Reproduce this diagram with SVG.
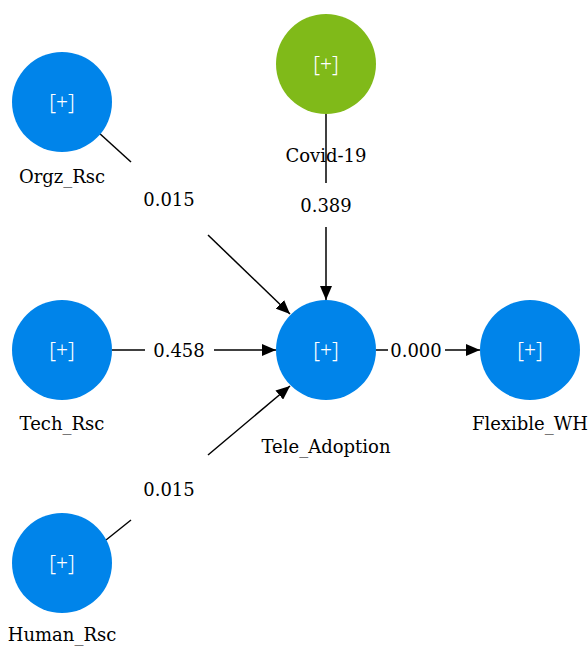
<svg xmlns="http://www.w3.org/2000/svg" width="588" height="646" viewBox="0 0 588 646">
<style>
.n{fill:#0084ea}
.g{fill:#80ba19}
.p{font-family:"Noto Sans","DejaVu Sans",sans-serif;font-size:21px;font-weight:300;fill:#fff;text-anchor:middle;dominant-baseline:central}
.l{font-family:"DejaVu Serif","Liberation Serif",serif;font-size:18px;fill:#000;text-anchor:middle;dominant-baseline:central}
.c{stroke:#000;stroke-width:1.5;fill:none}
</style>
<defs>
<marker id="ah" viewBox="0 0 14 12" refX="14" refY="6" markerWidth="14" markerHeight="12" markerUnits="userSpaceOnUse" orient="auto">
<path d="M0,0 L14,6 L0,12 Z" fill="#000"/>
</marker>
</defs>
<g id="connectors">
<line class="c" x1="98" y1="132" x2="131" y2="162"/>
<line class="c" x1="208" y1="235" x2="290" y2="314" marker-end="url(#ah)"/>
<text class="l" x="169" y="199">0.015</text>
<line class="c" x1="326" y1="114" x2="326" y2="183"/>
<line class="c" x1="326" y1="227" x2="326" y2="300" marker-end="url(#ah)"/>
<text class="l" x="326" y="205">0.389</text>
<line class="c" x1="112" y1="350" x2="145" y2="350"/>
<line class="c" x1="214" y1="350" x2="276" y2="350" marker-end="url(#ah)"/>
<text class="l" x="179" y="350">0.458</text>
<line class="c" x1="376" y1="350" x2="388" y2="350"/>
<line class="c" x1="445" y1="350" x2="480" y2="350" marker-end="url(#ah)"/>
<text class="l" x="416" y="350">0.000</text>
<line class="c" x1="106" y1="540" x2="131" y2="520"/>
<line class="c" x1="208" y1="455" x2="290" y2="386" marker-end="url(#ah)"/>
<text class="l" x="169" y="489">0.015</text>
</g>
<g id="orgz">
<circle class="n" cx="62" cy="102" r="50"/>
<text class="p" x="62" y="102">[+]</text>
<text class="l" x="62" y="176">Orgz_Rsc</text>
</g>
<g id="covid">
<circle class="g" cx="326" cy="64" r="50"/>
<text class="p" x="326" y="64">[+]</text>
<text class="l" x="326" y="155">Covid-19</text>
</g>
<g id="tech">
<circle class="n" cx="62" cy="350" r="50"/>
<text class="p" x="62" y="350">[+]</text>
<text class="l" x="62" y="423">Tech_Rsc</text>
</g>
<g id="tele">
<circle class="n" cx="326" cy="350" r="50"/>
<text class="p" x="326" y="350">[+]</text>
<text class="l" x="326" y="446">Tele_Adoption</text>
</g>
<g id="flex">
<circle class="n" cx="530" cy="350" r="50"/>
<text class="p" x="530" y="350">[+]</text>
<text class="l" x="530" y="423">Flexible_WH</text>
</g>
<g id="human">
<circle class="n" cx="62" cy="563" r="50"/>
<text class="p" x="62" y="563">[+]</text>
<text class="l" x="62" y="634">Human_Rsc</text>
</g>
</svg>
